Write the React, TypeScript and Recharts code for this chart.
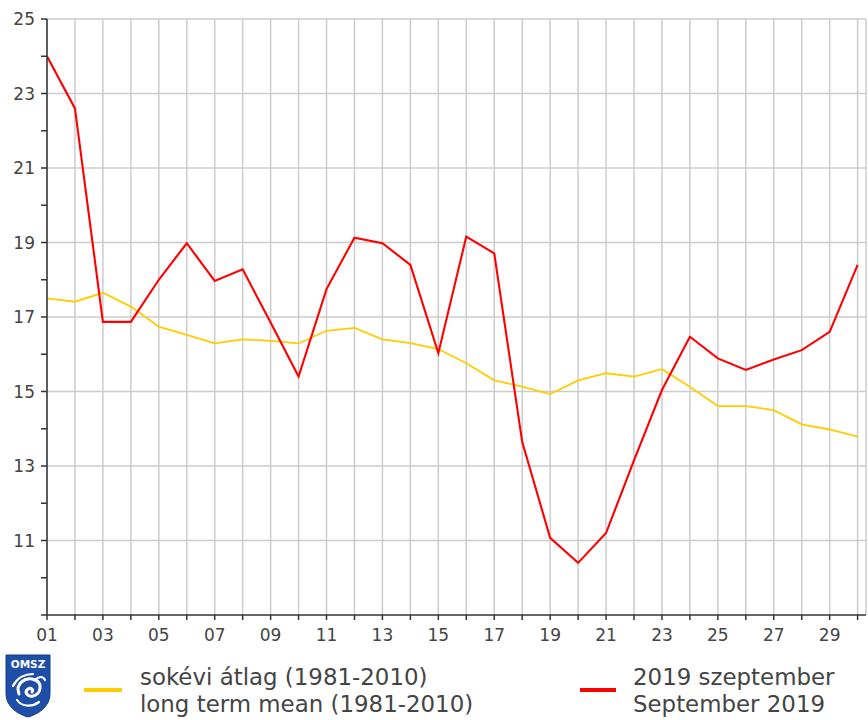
import React from 'react';
import { LineChart, Line, XAxis, YAxis, CartesianGrid } from 'recharts';

const days = [1, 2, 3, 4, 5, 6, 7, 8, 9, 10, 11, 12, 13, 14, 15, 16, 17, 18, 19, 20, 21, 22, 23, 24, 25, 26, 27, 28, 29, 30];
const xLabelDays = [1, 3, 5, 7, 9, 11, 13, 15, 17, 19, 21, 23, 25, 27, 29];
const sept2019 = [24.0, 22.6, 16.87, 16.87, 18.0, 18.98, 17.97, 18.28, 16.85, 15.4, 17.75, 19.13, 18.98, 18.4, 16.03, 19.16, 18.71, 13.65, 11.07, 10.4, 11.2, 13.15, 15.04, 16.47, 15.89, 15.58, 15.86, 16.11, 16.6, 18.4];
const longTermMean = [17.5, 17.41, 17.65, 17.28, 16.74, 16.52, 16.29, 16.4, 16.36, 16.29, 16.63, 16.71, 16.4, 16.3, 16.14, 15.76, 15.3, 15.13, 14.93, 15.3, 15.49, 15.4, 15.6, 15.13, 14.61, 14.61, 14.5, 14.12, 13.98, 13.79];
const yDomain = [9, 25];
const yTicks = [9, 10, 11, 12, 13, 14, 15, 16, 17, 18, 19, 20, 21, 22, 23, 24, 25];
const yLabels = [11, 13, 15, 17, 19, 21, 23, 25];
const xDomain = [1, 30.3];

const data = days.map((d, i) => ({ day: d, mean: longTermMean[i], y2019: sept2019[i] }));

const FONT = '"DejaVu Sans", Verdana, sans-serif';
const TEXT = '#444444';

const pad2 = (v: number) => (v < 10 ? '0' + v : String(v));

const Logo = () => (
  <svg width={46} height={64} viewBox="0 0 46 64" style={{ position: 'absolute', left: 5, top: 654 }}>
    <path d="M1 1 H45 V40 C45 52 34 60 23 63 C12 60 1 52 1 40 Z" fill="#1e4ea6" stroke="#163d87" strokeWidth={1} />
    <text x={23} y={14} textAnchor="middle" fill="#ffffff" fontSize={10.5} fontWeight="bold" fontFamily={FONT}>OMSZ</text>
    <path d="M14 40 C10 30 20 22 30 26 C38 29 36 40 28 42 C22 43 19 38 23 35 C26 33 29 36 27 38" fill="none" stroke="#ffffff" strokeWidth={3} strokeLinecap="round" />
    <path d="M8 32 C12 24 20 20 28 20 M30 26 C34 22 38 22 40 26 M12 46 C16 52 26 54 34 48" fill="none" stroke="#ffffff" strokeWidth={2.2} strokeLinecap="round" />
  </svg>
);

export default function App() {
  return (
    <div style={{ position: 'absolute', left: 0, top: 0, width: 868, height: 720, background: '#ffffff', fontFamily: FONT }}>
      <LineChart width={868} height={650} data={data} margin={{ top: 19, right: 2, bottom: 0, left: 0 }}>
        <CartesianGrid
          stroke="#cccccc"
          strokeWidth={1.5}
          horizontalCoordinatesGenerator={({ offset }: any) =>
            yLabels.map((v) => offset.top + ((yDomain[1] - v) / (yDomain[1] - yDomain[0])) * offset.height)
          }
        />
        <XAxis
          dataKey="day"
          type="number"
          domain={xDomain}
          ticks={days}
          interval={0}
          allowDataOverflow
          height={35}
          tickSize={5}
          tickMargin={9}
          stroke="#333333"
          strokeWidth={1.5}
          tick={{ fill: TEXT, fontSize: 17, fontFamily: FONT }}
          tickFormatter={(v: number) => (xLabelDays.includes(v) ? pad2(v) : '')}
        />
        <YAxis
          type="number"
          domain={yDomain}
          ticks={yTicks}
          interval={0}
          allowDataOverflow
          width={47}
          tickSize={6}
          tickMargin={6}
          stroke="#333333"
          strokeWidth={1.5}
          tick={{ fill: TEXT, fontSize: 17, fontFamily: FONT }}
          tickFormatter={(v: number) => (yLabels.includes(v) ? String(v) : '')}
        />
        <Line type="linear" dataKey="mean" stroke="#ffcc00" strokeWidth={1.8} dot={false} isAnimationActive={false} />
        <Line type="linear" dataKey="y2019" stroke="#ff0000" strokeWidth={2.1} dot={false} isAnimationActive={false} />
      </LineChart>
      <Logo />
      <div style={{ position: 'absolute', left: 84, top: 688, width: 38, height: 4, background: '#ffcc00' }} />
      <div style={{ position: 'absolute', left: 140, top: 664, fontSize: 22.9, lineHeight: '26.5px', color: TEXT, whiteSpace: 'nowrap' }}>
        <div>sokévi átlag (1981-2010)</div>
        <div>long term mean (1981-2010)</div>
      </div>
      <div style={{ position: 'absolute', left: 580, top: 688, width: 36, height: 4, background: '#ff0000' }} />
      <div style={{ position: 'absolute', left: 633, top: 664, fontSize: 22.9, lineHeight: '26.5px', color: TEXT, whiteSpace: 'nowrap' }}>
        <div>2019 szeptember</div>
        <div>September 2019</div>
      </div>
    </div>
  );
}
